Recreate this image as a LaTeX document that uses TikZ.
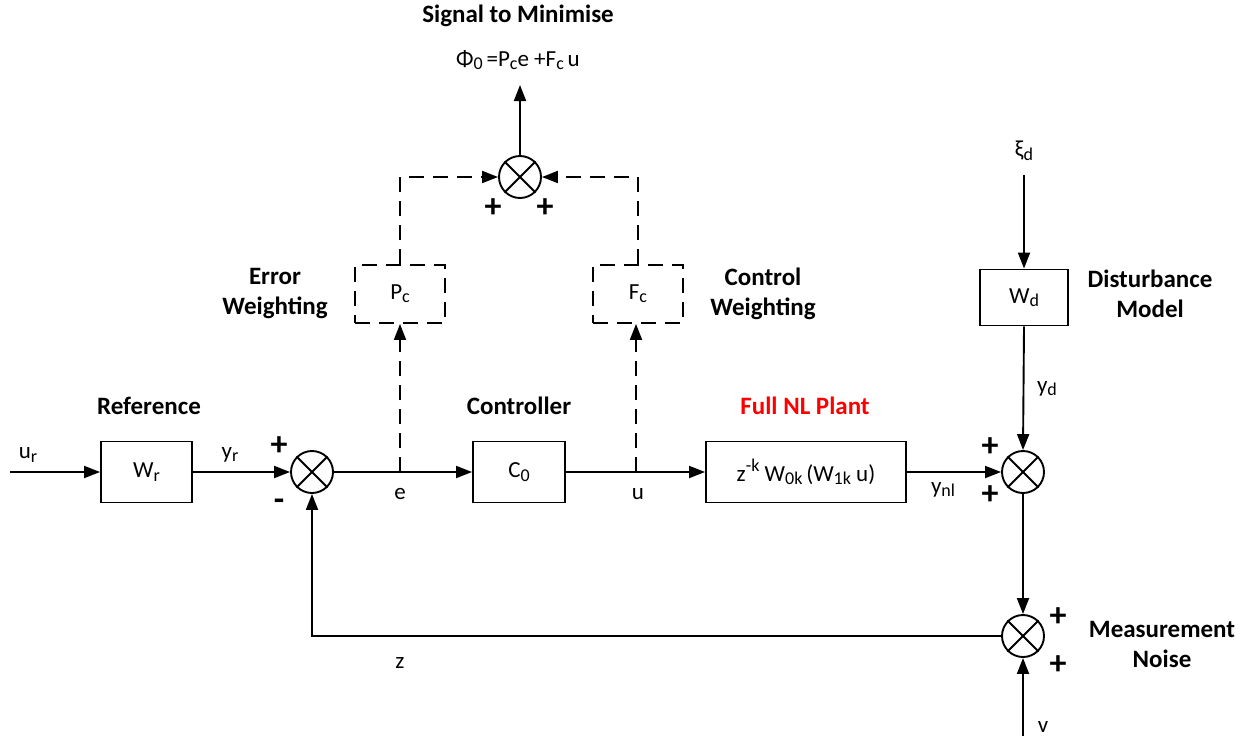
\documentclass[tikz,border=0pt]{standalone}
\usepackage{fontspec}
\setmainfont{Carlito}
\usetikzlibrary{arrows.meta,calc}
\newcommand\sbs[1]{\raisebox{-0.3ex}{\fontsize{18}{18}\selectfont #1}}
\newcommand\sps[1]{\raisebox{0.9ex}{\fontsize{18}{18}\selectfont #1}}
\begin{document}
\begin{tikzpicture}[x=1pt,y=-1pt,
  line width=1.9pt,
  >={Triangle[length=16pt,width=12pt]},
  blk/.style={draw,rectangle,inner sep=0pt,font=\fontsize{23}{26}\selectfont},
  sum/.style={draw,circle,minimum size=42pt,inner sep=0pt},
  lbl/.style={font=\fontsize{23}{26}\selectfont,inner sep=1pt},
  ttl/.style={font=\bfseries\fontsize{25}{30}\selectfont,align=center,inner sep=0pt},
  sgn/.style={font=\bfseries\fontsize{34}{34}\selectfont,inner sep=0pt},
  dsh/.style={dash pattern=on 15pt off 9pt}
]
\useasboundingbox (0,0) rectangle (1249,736);
% blocks
\node[blk,minimum width=91pt,minimum height=61pt] (Wr) at (146.5,472) {W\sbs{r}};
\node[blk,minimum width=92pt,minimum height=61pt] (C0) at (519,472) {C\sbs{0}};
\node[blk,minimum width=200pt,minimum height=61pt] (P) at (806,472) {z\sps{-k} W\sbs{0k}\,(W\sbs{1k} u)};
\node[blk,minimum width=88pt,minimum height=56pt] (Wd) at (1024,297.5) {W\sbs{d}};
\node[blk,dsh,minimum width=90pt,minimum height=58pt] (Pc) at (400,294) {P\sbs{c}};
\node[blk,dsh,minimum width=90pt,minimum height=58pt] (Fc) at (638,294) {F\sbs{c}};
% sums
\node[sum] (s1) at (312,472) {};
\node[sum] (s2) at (1023,472) {};
\node[sum] (s3) at (1023,636) {};
\node[sum] (s0) at (520,177) {};
\foreach \s in {s0,s1,s2,s3}{
  \draw (\s.north east) -- (\s.south west);
  \draw (\s.north west) -- (\s.south east);
}
% coordinates
\coordinate (ur) at (10,472);
\coordinate (e) at (400,472);
\coordinate (u) at (636,472);
\coordinate (xi) at (1024,175);
\coordinate (v) at (1023,736);
\coordinate (out) at (520,85);
% main path
\draw[->] (ur) -- (Wr.west);
\draw[->] (Wr.east) -- (s1.west);
\draw (s1.east) -- (e);
\draw[->] (e) -- (C0.west);
\draw (C0.east) -- (u);
\draw[->] (u) -- (P.west);
\draw[->] (P.east) -- (s2.west);
\draw[->] (xi) -- (Wd.north);
\draw[->] (Wd.south) -- (s2.north);
\draw[->] (s2.south) -- (s3.north);
\draw[->] (v) -- (s3.south);
\draw[->] (s3.west) -- (s1.south |- s3.west) -- (s1.south);
% weighting paths
\draw[dsh,->] (e) -- (Pc.south);
\draw[dsh,->] (u) -- (u |- Fc.south);
\draw[dsh,->] (Pc.north) -- (Pc.north |- s0.west) -- (s0.west);
\draw[dsh,->] (Fc.north) -- (Fc.north |- s0.east) -- (s0.east);
\draw[->] (s0.north) -- (out);
% labels
\node[lbl] (lur) at (28,455) {u\sbs{r}};
\node[lbl] (lyr) at (230,455) {y\sbs{r}};
\node[lbl] (le) at (400,494) {e};
\node[lbl] (lu) at (638,494) {u};
\node[lbl] (lz) at (400,663) {z};
\node[lbl] (lynl) at (943,490) {y\sbs{nl}};
\node[lbl] (lyd) at (1047,389) {y\sbs{d}};
\node[lbl] (lxi) at (1024,151) {ξ\sbs{d}};
\node[lbl] (lv) at (1043,727) {v};
\node[lbl] (phi) at (518,60) {Φ\sbs{0}\,=P\sbs{c}e +F\sbs{c}\,u};
% titles
\node[ttl] (tsig) at (518,16) {Signal to Minimise};
\node[ttl] (tref) at (149,406) {Reference};
\node[ttl] (tctl) at (519,406) {Controller};
\node[ttl,text=red] (tpl) at (805,406) {Full NL Plant};
\node[ttl] (terr) at (275,294) {Error\\Weighting};
\node[ttl] (tcw) at (763,294) {Control\\Weighting};
\node[ttl] (tdis) at (1150,294) {Disturbance\\Model};
\node[ttl] (tmn) at (1162,644) {Measurement\\Noise};
% signs
\node[sgn] (p1) at (279,446) {+};
\node[sgn] (m1) at (279,505) {-};
\node[sgn] (p2) at (990,447) {+};
\node[sgn] (p3) at (990,495) {+};
\node[sgn] (p4) at (1058,617) {+};
\node[sgn] (p5) at (1058,665) {+};
\node[sgn] (p6) at (493,208) {+};
\node[sgn] (p7) at (545,208) {+};
\end{tikzpicture}
\end{document}
